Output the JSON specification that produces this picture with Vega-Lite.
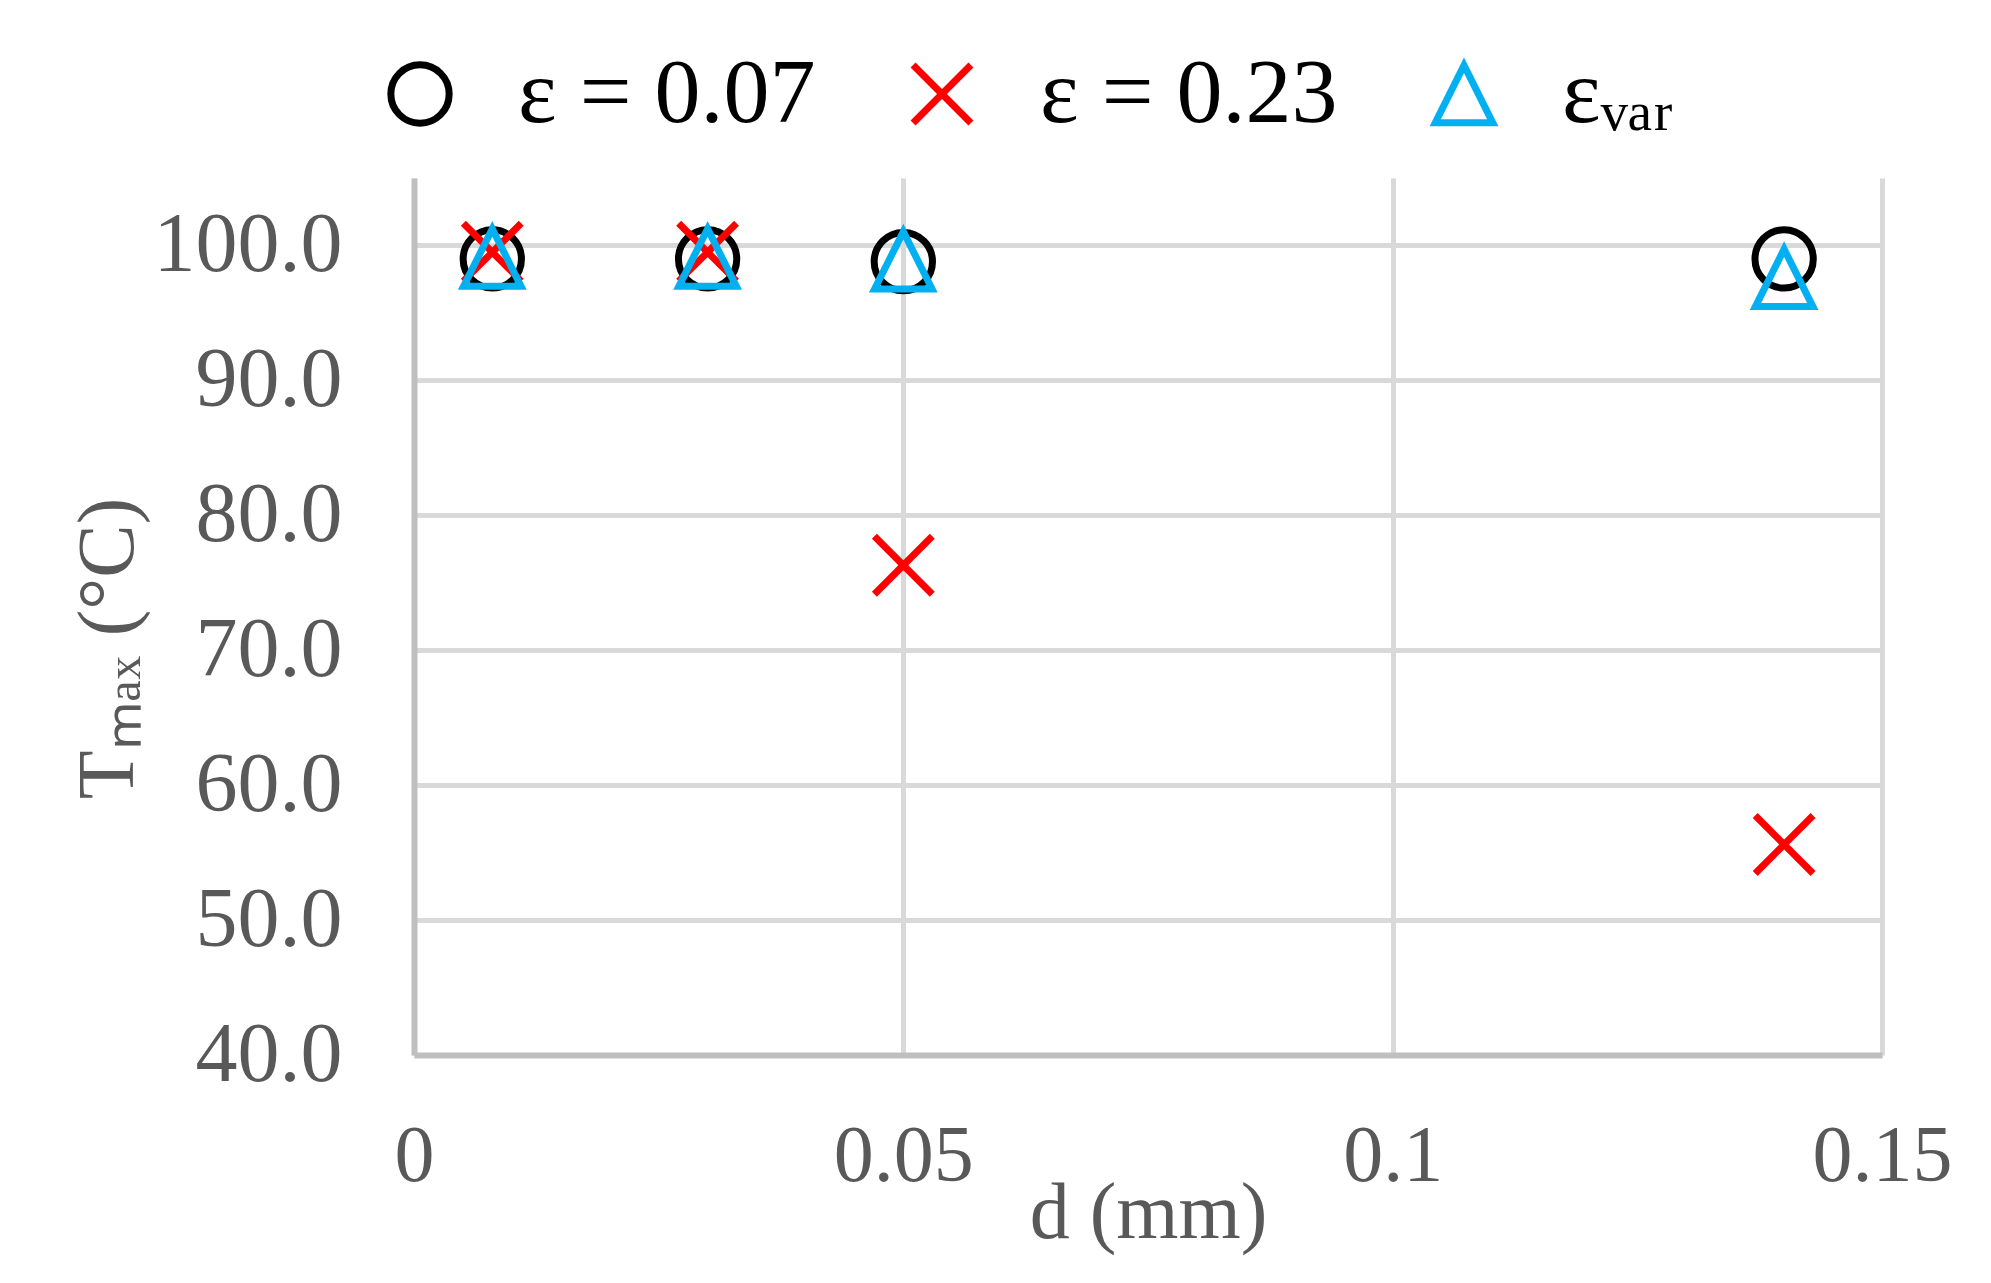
{
  "$schema": "https://vega.github.io/schema/vega-lite/v6.json",
  "width": 1468,
  "height": 877,
  "autosize": {"type": "none"},
  "padding": {"left": 414, "top": 178, "right": 109, "bottom": 228},
  "background": "white",
  "config": {
    "view": {"stroke": null},
    "font": "Liberation Serif"
  },
  "data": {
    "values": [
      {"d": 0.008, "T": 99.0, "series": "e007"},
      {"d": 0.03, "T": 99.0, "series": "e007"},
      {"d": 0.05, "T": 98.8, "series": "e007"},
      {"d": 0.14, "T": 99.0, "series": "e007"},
      {"d": 0.008, "T": 99.5, "series": "e023"},
      {"d": 0.03, "T": 99.5, "series": "e023"},
      {"d": 0.05, "T": 76.3, "series": "e023"},
      {"d": 0.14, "T": 55.6, "series": "e023"},
      {"d": 0.008, "T": 99.1, "series": "evar"},
      {"d": 0.03, "T": 99.1, "series": "evar"},
      {"d": 0.05, "T": 98.9, "series": "evar"},
      {"d": 0.14, "T": 97.6, "series": "evar"}
    ]
  },
  "mark": {"type": "point", "filled": false, "strokeWidth": 7, "opacity": 1},
  "encoding": {
    "x": {
      "field": "d",
      "type": "quantitative",
      "scale": {"domain": [0, 0.15], "nice": false, "zero": false},
      "axis": {
        "values": [0, 0.05, 0.1, 0.15],
        "labelExpr": "format(datum.value, '.2~f')",
        "title": "d (mm)",
        "titleFont": "Liberation Serif",
        "titleFontSize": 80,
        "titleFontWeight": "normal",
        "titleColor": "#595959",
        "titlePadding": -22,
        "labelFont": "Liberation Serif",
        "labelFontSize": 80,
        "labelColor": "#595959",
        "labelPadding": 62,
        "labelFlush": false,
        "labelLimit": 0,
        "ticks": false,
        "domainColor": "#BFBFBF",
        "domainWidth": 6,
        "grid": true,
        "gridColor": "#D9D9D9",
        "gridWidth": 5
      }
    },
    "y": {
      "field": "T",
      "type": "quantitative",
      "scale": {"domain": [40, 105], "nice": false, "zero": false},
      "axis": {
        "values": [40, 50, 60, 70, 80, 90, 100],
        "format": ".1f",
        "title": "Tₘₐₓ (°C)",
        "titleFont": "Liberation Serif",
        "titleFontSize": 80,
        "titleFontWeight": "normal",
        "titleColor": "#595959",
        "titlePadding": 65,
        "titleY": 470,
        "labelFont": "Liberation Serif",
        "labelFontSize": 84,
        "labelColor": "#595959",
        "labelPadding": 72,
        "labelFlush": false,
        "labelLimit": 0,
        "ticks": false,
        "domainColor": "#BFBFBF",
        "domainWidth": 6,
        "grid": true,
        "gridColor": "#D9D9D9",
        "gridWidth": 5
      }
    },
    "size": {
      "field": "series",
      "type": "nominal",
      "scale": {"domain": ["e007", "e023", "evar"], "range": [3400, 3300, 2900]},
      "legend": null
    },
    "color": {
      "field": "series",
      "type": "nominal",
      "scale": {"domain": ["e007", "e023", "evar"], "range": ["#000000", "#FF0000", "#00B0F0"]},
      "legend": {
        "title": null,
        "orient": "none",
        "direction": "horizontal",
        "legendX": -40,
        "legendY": -130,
        "labelExpr": "datum.value == 'e007' ? 'ε = 0.07' : datum.value == 'e023' ? 'ε = 0.23' : 'εᵥₐᵣ'",
        "labelFont": "Liberation Serif",
        "labelFontSize": 92,
        "labelColor": "#000000",
        "labelOffset": 52,
        "labelLimit": 0,
        "symbolSize": 2900,
        "symbolStrokeWidth": 7,
        "columnPadding": 80
      }
    },
    "shape": {
      "field": "series",
      "type": "nominal",
      "scale": {"domain": ["e007", "e023", "evar"], "range": ["circle", "M-1,-1L1,1M-1,1L1,-1", "M0,-1L1,1L-1,1Z"]},
      "legend": null
    }
  }
}
